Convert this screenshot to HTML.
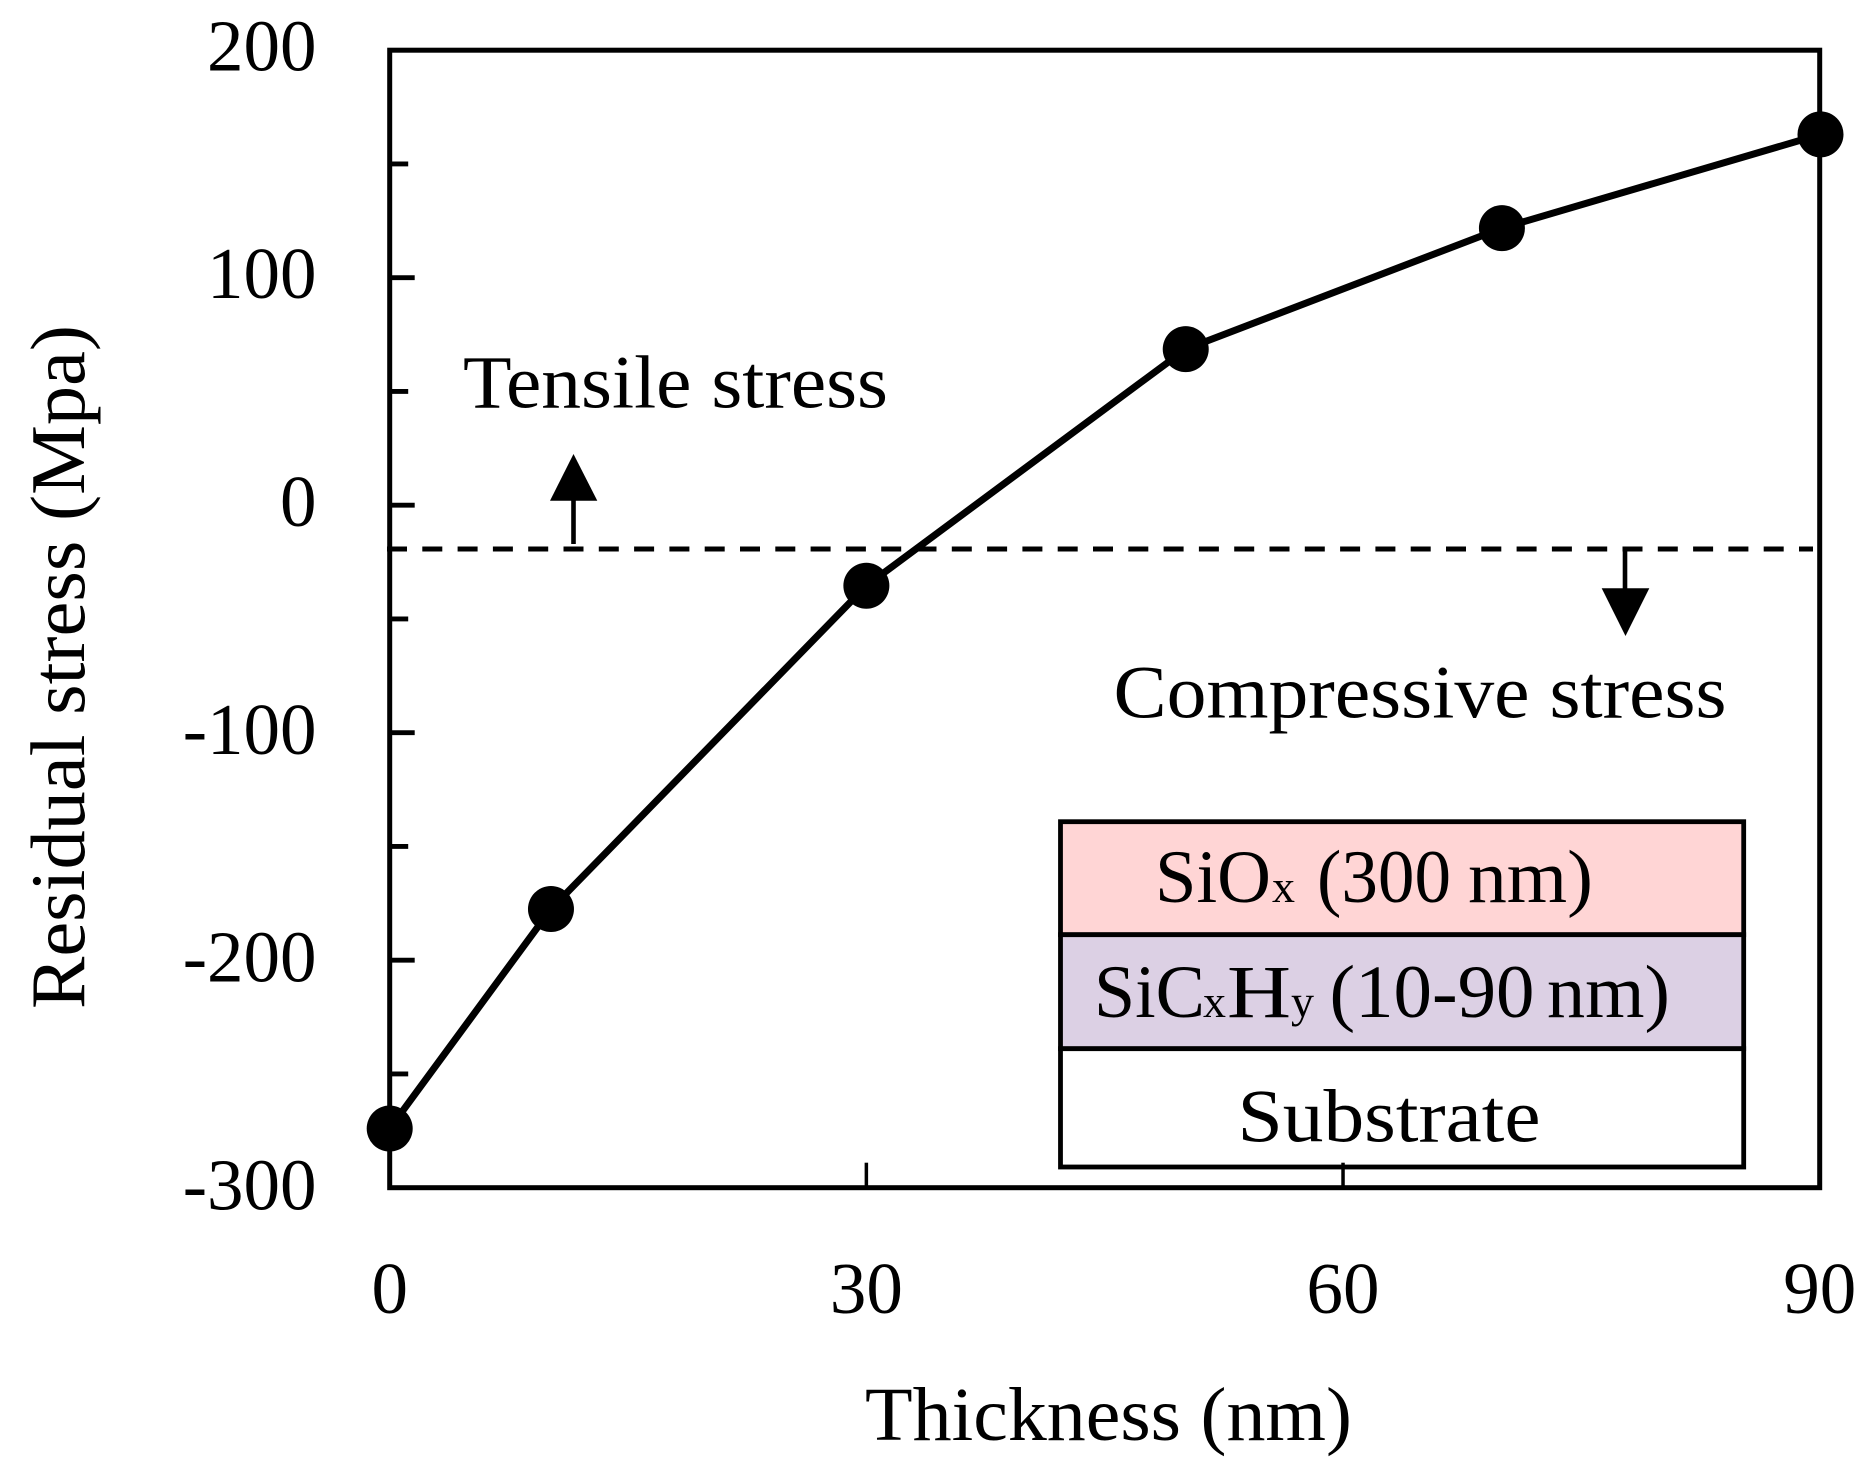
<!DOCTYPE html>
<html lang="en">
<head>
<meta charset="utf-8">
<title>Residual stress vs thickness</title>
<style>
html,body{margin:0;padding:0;background:#fff;}
svg{display:block;}
text{font-family:"Liberation Serif",serif;fill:#000;}
</style>
</head>
<body>
<svg id="chart" xmlns="http://www.w3.org/2000/svg" width="1866" height="1465" viewBox="0 0 1866 1465">
  <rect width="1866" height="1465" fill="#fff"/>
  <g id="inset">
    <rect x="1060.5" y="821.7" width="683.2" height="113" fill="#ffd5d5" stroke="#000" stroke-width="4.8"/>
    <rect x="1060.5" y="934.7" width="683.2" height="114" fill="#dcd0e4" stroke="#000" stroke-width="4.8"/>
    <rect x="1060.5" y="1048.7" width="683.2" height="118.3" fill="#fff" stroke="#000" stroke-width="4.8"/>
    <text y="902" font-size="75"><tspan x="1155" textLength="116" lengthAdjust="spacingAndGlyphs">SiO</tspan><tspan x="1272" font-size="46">x</tspan><tspan x="1317" textLength="134" lengthAdjust="spacingAndGlyphs">(300</tspan> <tspan x="1468" textLength="125" lengthAdjust="spacingAndGlyphs">nm)</tspan></text>
    <text y="1017" font-size="75"><tspan x="1094" textLength="111" lengthAdjust="spacingAndGlyphs">SiC</tspan><tspan x="1203" font-size="46">x</tspan><tspan x="1227" textLength="64" lengthAdjust="spacingAndGlyphs">H</tspan><tspan x="1291" font-size="46">y</tspan><tspan x="1329.5" textLength="205" lengthAdjust="spacingAndGlyphs">(10-90</tspan> <tspan x="1547" textLength="123" lengthAdjust="spacingAndGlyphs">nm)</tspan></text>
    <text x="1237.5" y="1141.5" font-size="75" textLength="303" lengthAdjust="spacingAndGlyphs">Substrate</text>
  </g>
  <g id="axes"></g>
  <g id="marks"></g>
  <g id="annotations">
    <text x="463" y="407.7" font-size="75" textLength="425" lengthAdjust="spacingAndGlyphs">Tensile stress</text>
    <text x="1113.5" y="717.6" font-size="75" textLength="613" lengthAdjust="spacingAndGlyphs">Compressive stress</text>
    <rect x="571.2" y="498" width="4.6" height="46" fill="#000"/>
    <polygon points="573.5,454 597.3,500.7 550,500.7" fill="#000"/>
    <rect x="1622.7" y="547" width="4.6" height="44" fill="#000"/>
    <polygon points="1601.7,588.3 1649.3,588.3 1625.5,636" fill="#000"/>
  </g>
  <text x="865" y="1440" font-size="76" textLength="487" lengthAdjust="spacingAndGlyphs">Thickness (nm)</text>
  <text transform="translate(84,1009) rotate(-90)" x="0" y="0" font-size="77" textLength="684" lengthAdjust="spacingAndGlyphs">Residual stress (Mpa)</text>
</svg>
<script>
const thickness = [0, 10.15, 30, 50.1, 70, 90.05];
const stress = [-274, -177.5, -35.4, 68.6, 121.8, 163];
const yMajorTicks = [200, 100, 0, -100, -200, -300];
const yMinorTicks = [150, 50, -50, -150, -250];
const xTicks = [0, 30, 60, 90];
const xTickMarks = [30, 60];
const neutralStress = -19.25;

const NS = 'http://www.w3.org/2000/svg';
function x(v) { return 389.7 + v * (1430 / 90); }
function y(v) { return 505.2 - v * 2.275; }
function labelY(v) { return 526 - v * 2.278; }
function make(tag, attrs, parent) {
  const el = document.createElementNS(NS, tag);
  for (const k in attrs) el.setAttribute(k, attrs[k]);
  parent.appendChild(el);
  return el;
}
const axes = document.getElementById('axes');
const marks = document.getElementById('marks');

const frame = make('rect', { x: x(0), y: y(200), width: x(90) - x(0), height: y(-300) - y(200), fill: 'none', stroke: '#000', 'stroke-width': 5 }, axes);



yMajorTicks.forEach(function (v) {
  if (v !== 200 && v !== -300) {
    const t = make('line', { x1: x(0), x2: x(0) + 25, y1: y(v), y2: y(v), stroke: '#000', 'stroke-width': 4.8 }, axes);
    
    
  }
  const l = make('text', { x: 316.5, y: labelY(v), 'font-size': 73, 'text-anchor': 'end' }, axes);
  
  
  l.textContent = String(v);
});
yMinorTicks.forEach(function (v) {
  const t = make('line', { x1: x(0), x2: x(0) + 18.5, y1: y(v), y2: y(v), stroke: '#000', 'stroke-width': 4.8 }, axes);
  
  
});
xTickMarks.forEach(function (v) {
  const t = make('line', { x1: x(v), x2: x(v), y1: y(-300), y2: y(-300) - 25, stroke: '#000', 'stroke-width': 3.5 }, axes);
  
  
});
xTicks.forEach(function (v) {
  const l = make('text', { x: x(v), y: 1313, 'font-size': 73, 'text-anchor': 'middle' }, axes);
  
  
  l.textContent = String(v);
});

const neutral = make('line', { x1: 387, x2: 1813, y1: y(neutralStress), y2: y(neutralStress), stroke: '#000', 'stroke-width': 5, 'stroke-dasharray': '20 15.3' }, marks);



const linePts = thickness.map(function (t, i) { return x(t) + ',' + y(stress[i]); }).join(' ');
const curve = make('polyline', { points: linePts, fill: 'none', stroke: '#000', 'stroke-width': 7, 'stroke-linejoin': 'round' }, marks);



thickness.forEach(function (t, i) {
  const c = make('circle', { cx: x(t), cy: y(stress[i]), r: 23, fill: '#000' }, marks);
  
  
});
</script>
</body>
</html>
